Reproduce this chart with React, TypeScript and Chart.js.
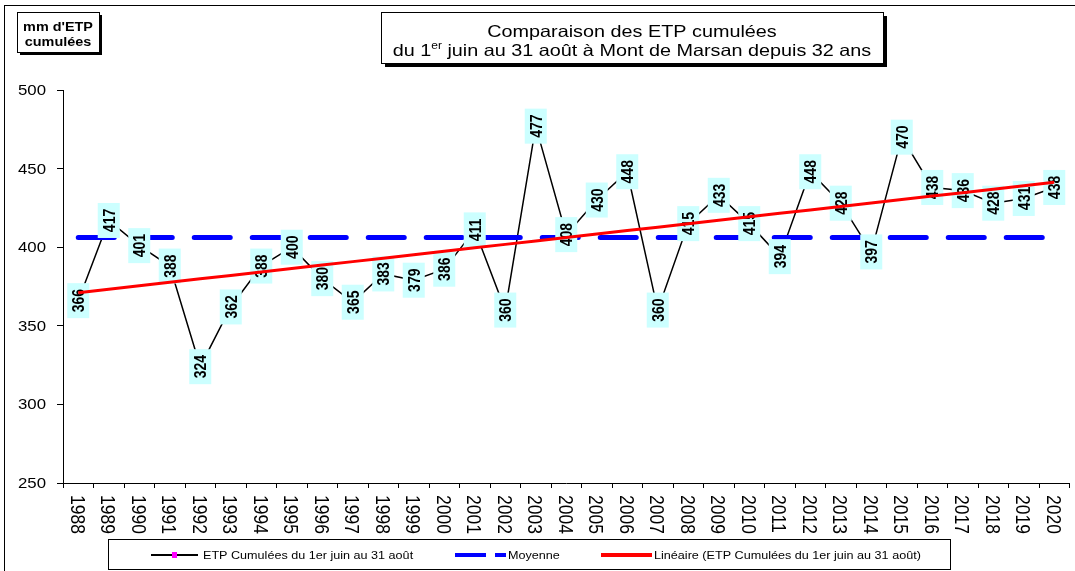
import React, { useEffect, useRef } from "react";
import { Chart, registerables } from "chart.js";

Chart.register(...registerables);

// ---------- data ----------
const years = [
  "1988", "1989", "1990", "1991", "1992", "1993", "1994", "1995", "1996", "1997", "1998",
  "1999", "2000", "2001", "2002", "2003", "2004", "2005", "2006", "2007", "2008", "2009",
  "2010", "2011", "2012", "2013", "2014", "2015", "2016", "2017", "2018", "2019", "2020",
];
const etp = [
  366, 417, 401, 388, 324, 362, 388, 400, 380, 365, 383,
  379, 386, 411, 360, 477, 408, 430, 448, 360, 415, 433,
  415, 394, 448, 428, 397, 470, 438, 436, 428, 431, 438,
];
const yTicks = [250, 300, 350, 400, 450, 500];
const titleLine1 = "Comparaison des ETP cumulées";
const titleLine2a = "du 1";
const titleSup = "er";
const titleLine2b = " juin au 31 août à Mont de Marsan depuis 32 ans";
const yTitleLines = ["mm d'ETP", "cumulées"];
const legendLabels = [
  "ETP Cumulées du 1er juin au 31 août",
  "Moyenne",
  "Linéaire (ETP Cumulées du 1er juin au 31 août)",
];

// average ("Moyenne") and least-squares trend ("Linéaire") computed from the data
const meanValue = etp.reduce((a, b) => a + b, 0) / etp.length;
const meanSeries = etp.map(() => meanValue);
const xMid = (etp.length - 1) / 2;
let sxy = 0;
let sxx = 0;
etp.forEach((v, i) => {
  sxy += (i - xMid) * (v - meanValue);
  sxx += (i - xMid) * (i - xMid);
});
const slope = sxy / sxx;
const trendSeries = etp.map((_, i) => meanValue + slope * (i - xMid));

// ---------- styling ----------
const FONT = '"Liberation Sans", Arial, Helvetica, sans-serif';
const SX = 1.2; // horizontal stretch of the reference's text

function drawText(
  ctx: CanvasRenderingContext2D,
  text: string,
  x: number,
  y: number,
  size: number,
  opts: { bold?: boolean; align?: CanvasTextAlign; rot?: number; center?: boolean; color?: string } = {}
) {
  ctx.save();
  ctx.translate(x, y);
  ctx.scale(SX, 1);
  if (opts.rot) ctx.rotate(opts.rot);
  ctx.font = `${opts.bold ? "bold " : ""}${size}px ${FONT}`;
  ctx.textAlign = opts.align || "left";
  ctx.textBaseline = "alphabetic";
  ctx.fillStyle = opts.color || "#000";
  ctx.fillText(text, 0, opts.center ? size * 0.36 : 0);
  ctx.restore();
}

function shadowBox(ctx: CanvasRenderingContext2D, x: number, y: number, w: number, h: number, off: number) {
  ctx.save();
  ctx.fillStyle = "#000";
  ctx.fillRect(x + off, y + off, w, h);
  ctx.fillStyle = "#fff";
  ctx.fillRect(x, y, w, h);
  ctx.strokeStyle = "#000";
  ctx.lineWidth = 1;
  ctx.strokeRect(x + 0.5, y + 0.5, w, h);
  ctx.restore();
}

const decorPlugin = {
  id: "decor",
  beforeDraw(chart: any) {
    const ctx = chart.ctx as CanvasRenderingContext2D;
    ctx.save();
    ctx.fillStyle = "#fff";
    ctx.fillRect(0, 0, chart.width, chart.height);
    ctx.restore();
  },
  afterDatasetDraw(chart: any, args: any) {
    if (args.index !== 1) return;
    // data labels on top of the series and the average line, under the trend line
    const ctx = chart.ctx as CanvasRenderingContext2D;
    const meta = chart.getDatasetMeta(2);
    meta.data.forEach((pt: any, i: number) => {
      const w = 22;
      const h = 35;
      ctx.save();
      ctx.fillStyle = "#CCFFFF";
      ctx.fillRect(pt.x - w / 2, pt.y - h / 2, w, h);
      ctx.restore();
      drawText(ctx, String(etp[i]), pt.x, pt.y, 14, { bold: true, align: "center", rot: -Math.PI / 2, center: true });
    });
  },
  afterDraw(chart: any) {
    const ctx = chart.ctx as CanvasRenderingContext2D;
    const xs = chart.scales.x;
    const ys = chart.scales.y;

    // y tick labels
    yTicks.forEach((v) => {
      drawText(ctx, String(v), 46, ys.getPixelForValue(v), 14, { align: "right", center: true });
    });
    // x tick labels (read top to bottom)
    years.forEach((lab, i) => {
      drawText(ctx, lab, xs.getPixelForValue(i), 495, 17.5, { align: "left", rot: Math.PI / 2, center: true });
    });

    // outer frame
    ctx.save();
    ctx.strokeStyle = "#000";
    ctx.lineWidth = 1;
    ctx.strokeRect(4.5, 5.5, 1200, 700);
    ctx.restore();

    // y-axis title box
    shadowBox(ctx, 17, 12, 82, 40, 3);
    drawText(ctx, yTitleLines[0], 58, 30.5, 12, { bold: true, align: "center" });
    drawText(ctx, yTitleLines[1], 58, 46, 12, { bold: true, align: "center" });

    // title box
    shadowBox(ctx, 381, 12, 502, 51, 4);
    const tSize = 16.5;
    const cx = 632;
    drawText(ctx, titleLine1, cx, 36.5, tSize, { align: "center" });
    ctx.save();
    ctx.font = `${tSize}px ${FONT}`;
    const wa = ctx.measureText(titleLine2a).width * SX;
    const wb = ctx.measureText(titleLine2b).width * SX;
    ctx.font = `10px ${FONT}`;
    const ws = ctx.measureText(titleSup).width * SX;
    ctx.restore();
    const start = cx - (wa + ws + wb) / 2;
    drawText(ctx, titleLine2a, start, 55.5, tSize);
    drawText(ctx, titleSup, start + wa, 49, 10);
    drawText(ctx, titleLine2b, start + wa + ws, 55.5, tSize);

    // legend
    ctx.save();
    ctx.fillStyle = "#fff";
    ctx.fillRect(108, 539, 842, 30);
    ctx.strokeStyle = "#000";
    ctx.lineWidth = 1;
    ctx.strokeRect(108.5, 539.5, 842, 30);
    const ly = 555;
    // series
    ctx.strokeStyle = "#000";
    ctx.lineWidth = 2;
    ctx.beginPath();
    ctx.moveTo(151, ly);
    ctx.lineTo(198, ly);
    ctx.stroke();
    ctx.fillStyle = "#FF00FF";
    ctx.fillRect(172, ly - 3, 5, 6);
    // average
    ctx.strokeStyle = "#0000FF";
    ctx.lineWidth = 4;
    ctx.beginPath();
    ctx.moveTo(455, ly);
    ctx.lineTo(486, ly);
    ctx.moveTo(495, ly);
    ctx.lineTo(506, ly);
    ctx.stroke();
    // trend
    ctx.strokeStyle = "#FF0000";
    ctx.lineWidth = 4;
    ctx.beginPath();
    ctx.moveTo(601, ly);
    ctx.lineTo(652, ly);
    ctx.stroke();
    ctx.restore();
    drawText(ctx, legendLabels[0], 203, ly, 10.5, { center: true });
    drawText(ctx, legendLabels[1], 508, ly, 10.5, { center: true });
    drawText(ctx, legendLabels[2], 654, ly, 10.5, { center: true });
  },
};

export default function App() {
  const ref = useRef<HTMLCanvasElement | null>(null);

  useEffect(() => {
    if (!ref.current) return;
    const chart = new Chart(ref.current, {
      type: "line",
      data: {
        labels: years,
        datasets: [
          {
            label: legendLabels[2],
            data: trendSeries,
            borderColor: "#FF0000",
            borderWidth: 3,
            pointRadius: 0,
            fill: false,
          },
          {
            label: legendLabels[1],
            data: meanSeries,
            borderColor: "#0000FF",
            borderWidth: 5,
            borderDash: [36, 22],
            borderCapStyle: "round",
            pointRadius: 0,
            fill: false,
          },
          {
            label: legendLabels[0],
            data: etp,
            borderColor: "#000000",
            borderWidth: 1.5,
            pointStyle: "rect",
            pointRadius: 2.5,
            pointBackgroundColor: "#FF00FF",
            pointBorderColor: "#FF00FF",
            tension: 0,
            fill: false,
          },
        ],
      },
      options: {
        animation: false,
        responsive: false,
        devicePixelRatio: 1,
        events: [],
        layout: { padding: { top: 90, left: 0, right: 0, bottom: 0 } },
        plugins: {
          legend: { display: false },
          title: { display: false },
          tooltip: { enabled: false },
        },
        scales: {
          x: {
            type: "category",
            offset: true,
            grid: {
              offset: true,
              drawOnChartArea: false,
              drawTicks: true,
              tickLength: 5,
              color: "#000",
            },
            border: { display: true, color: "#000", width: 1 },
            ticks: { display: false },
            afterFit: (s: any) => {
              s.height = 88;
            },
          },
          y: {
            type: "linear",
            min: 250,
            max: 500,
            ticks: { display: false, stepSize: 50 },
            grid: {
              drawOnChartArea: false,
              drawTicks: true,
              tickLength: 6,
              color: "#000",
            },
            border: { display: true, color: "#000", width: 1 },
            afterFit: (s: any) => {
              s.width = 63;
            },
          },
        },
      },
      plugins: [decorPlugin],
    } as any);
    return () => chart.destroy();
  }, []);

  return (
    <div style={{ position: "absolute", left: 0, top: 0, width: 1075, height: 571 }}>
      <canvas ref={ref} width={1075} height={571} style={{ display: "block" }} />
    </div>
  );
}
